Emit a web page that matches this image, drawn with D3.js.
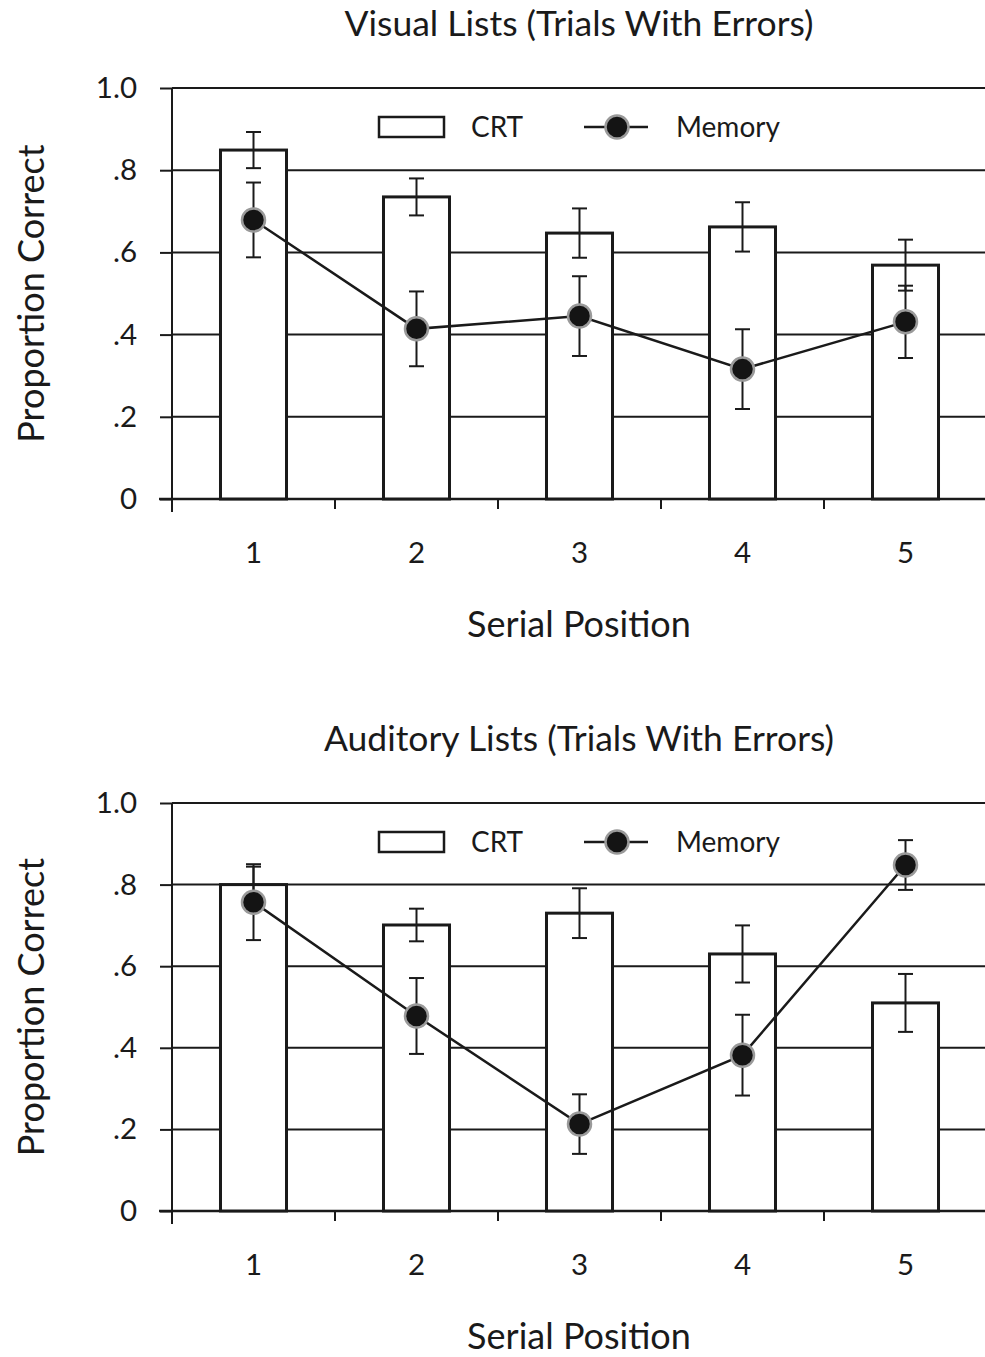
<!DOCTYPE html>
<html>
<head>
<meta charset="utf-8">
<script src="https://cdn.jsdelivr.net/npm/d3@7"></script>
<style>
  html, body { margin: 0; padding: 0; background: #fff; }
  svg { display: block; }
  text { font-family: "Lato", "Open Sans", sans-serif; fill: #1a1a1a; }
</style>
</head>
<body>
<svg id="chart" width="985" height="1357"></svg>
<script>
// ---------- DATA ----------
const positions = ["1", "2", "3", "4", "5"];
const yTicks = [0, 0.2, 0.4, 0.6, 0.8, 1.0];
const yTickLabels = ["0", ".2", ".4", ".6", ".8", "1.0"];

const panelTitles = ["Visual Lists (Trials With Errors)", "Auditory Lists (Trials With Errors)"];

// Visual lists
const visualCRT      = [0.849, 0.735, 0.647, 0.662, 0.569];
const visualCRTErr   = [0.044, 0.045, 0.060, 0.060, 0.062];
const visualMemory   = [0.679, 0.414, 0.445, 0.316, 0.431];
const visualMemErr   = [0.091, 0.091, 0.097, 0.097, 0.088];

// Auditory lists
const auditoryCRT    = [0.800, 0.701, 0.730, 0.630, 0.510];
const auditoryCRTErr = [0.044, 0.040, 0.061, 0.070, 0.071];
const auditoryMemory = [0.757, 0.478, 0.213, 0.382, 0.848];
const auditoryMemErr = [0.093, 0.093, 0.073, 0.099, 0.061];

const panels = [
  { title: panelTitles[0], crt: visualCRT, crtErr: visualCRTErr, mem: visualMemory, memErr: visualMemErr, top: 88, bottom: 499 },
  { title: panelTitles[1], crt: auditoryCRT, crtErr: auditoryCRTErr, mem: auditoryMemory, memErr: auditoryMemErr, top: 803, bottom: 1211 }
];

// ---------- DRAW ----------
const svg = d3.select("#chart");
const ink = "#1a1a1a";
const left = 172, right = 987;

const x = d3.scaleBand().domain(positions).range([left, right]).padding(0);
const barW = x.bandwidth() * 0.405;

panels.forEach(p => {
  const g = svg.append("g");
  const y = d3.scaleLinear().domain([0, 1]).range([p.bottom, p.top]);

  // title
  g.append("text")
    .attr("x", 579).attr("y", p.top - 52)
    .attr("text-anchor", "middle")
    .attr("font-size", 35.5)
    .text(p.title);

  // gridlines
  g.selectAll("line.grid").data(yTicks.filter(d => d > 0)).enter().append("line")
    .attr("x1", left).attr("x2", 985)
    .attr("y1", d => y(d)).attr("y2", d => y(d))
    .attr("stroke", ink).attr("stroke-width", 2);

  // y axis
  const yAxis = d3.axisLeft(y).tickValues(yTicks)
    .tickFormat((d, i) => yTickLabels[i]).tickSize(12).tickPadding(23);
  const ya = g.append("g").attr("transform", `translate(${left},0)`).call(yAxis);
  ya.select(".domain").remove();
  ya.selectAll(".tick line").attr("stroke", ink).attr("stroke-width", 2);
  ya.selectAll(".tick text").attr("font-size", 29.5).attr("font-family", "Lato, 'Open Sans', sans-serif").attr("fill", ink);
  g.append("line").attr("x1", left).attr("x2", left)
    .attr("y1", p.top).attr("y2", p.bottom + 13)
    .attr("stroke", ink).attr("stroke-width", 2);

  // x axis
  g.append("line").attr("x1", 159).attr("x2", 985)
    .attr("y1", p.bottom).attr("y2", p.bottom)
    .attr("stroke", ink).attr("stroke-width", 2.5);
  g.selectAll("line.xtick").data(positions).enter().append("line")
    .attr("x1", d => x(d)).attr("x2", d => x(d))
    .attr("y1", p.bottom).attr("y2", p.bottom + 10)
    .attr("stroke", ink).attr("stroke-width", 2);
  g.selectAll("text.xlab").data(positions).enter().append("text")
    .attr("x", d => x(d) + x.bandwidth() / 2)
    .attr("y", p.bottom + 64)
    .attr("text-anchor", "middle").attr("font-size", 29.5)
    .text(d => d);

  // axis titles
  g.append("text")
    .attr("x", 579).attr("y", p.bottom + 138)
    .attr("text-anchor", "middle").attr("font-size", 36)
    .text("Serial Position");
  g.append("text")
    .attr("transform", `translate(44,${(p.top + p.bottom) / 2}) rotate(-90)`)
    .attr("text-anchor", "middle").attr("font-size", 36)
    .text("Proportion Correct");

  // bars
  g.selectAll("rect.bar").data(p.crt).enter().append("rect")
    .attr("x", (d, i) => x(positions[i]) + (x.bandwidth() - barW) / 2)
    .attr("y", d => y(d))
    .attr("width", barW)
    .attr("height", d => y(0) - y(d))
    .attr("fill", "#fff").attr("stroke", ink).attr("stroke-width", 3);

  const cx = i => x(positions[i]) + x.bandwidth() / 2;
  const capW = 7.5;
  function errBars(vals, errs) {
    vals.forEach((v, i) => {
      const eg = g.append("g").attr("stroke", ink).attr("stroke-width", 2);
      eg.append("line").attr("x1", cx(i)).attr("x2", cx(i)).attr("y1", y(v + errs[i])).attr("y2", y(v - errs[i]));
      eg.append("line").attr("x1", cx(i) - capW).attr("x2", cx(i) + capW).attr("y1", y(v + errs[i])).attr("y2", y(v + errs[i]));
      eg.append("line").attr("x1", cx(i) - capW).attr("x2", cx(i) + capW).attr("y1", y(v - errs[i])).attr("y2", y(v - errs[i]));
    });
  }
  errBars(p.crt, p.crtErr);
  errBars(p.mem, p.memErr);

  // memory line
  const line = d3.line().x((d, i) => cx(i)).y(d => y(d));
  g.append("path").datum(p.mem).attr("d", line)
    .attr("fill", "none").attr("stroke", ink).attr("stroke-width", 2.5);

  g.selectAll("circle.pt").data(p.mem).enter().append("circle")
    .attr("cx", (d, i) => cx(i)).attr("cy", d => y(d)).attr("r", 11.5)
    .attr("fill", "#141414").attr("stroke", "#9a9a9a").attr("stroke-width", 2.5);

  // legend
  const ly = p.top + 39;
  g.append("rect").attr("x", 379).attr("y", ly - 10).attr("width", 65).attr("height", 20)
    .attr("fill", "#fff").attr("stroke", ink).attr("stroke-width", 2.5);
  g.append("text").attr("x", 471).attr("y", ly + 10).attr("font-size", 28).text("CRT");
  g.append("line").attr("x1", 584).attr("x2", 648).attr("y1", ly).attr("y2", ly)
    .attr("stroke", ink).attr("stroke-width", 2.5);
  g.append("circle").attr("cx", 617).attr("cy", ly).attr("r", 11.5)
    .attr("fill", "#141414").attr("stroke", "#9a9a9a").attr("stroke-width", 2.5);
  g.append("text").attr("x", 676).attr("y", ly + 10).attr("font-size", 28).text("Memory");
});
</script>
</body>
</html>
